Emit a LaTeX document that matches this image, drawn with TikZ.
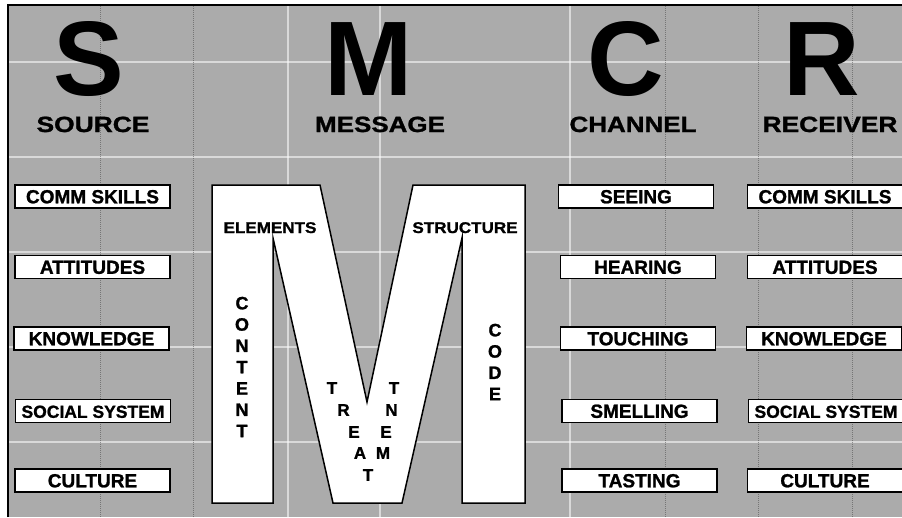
\documentclass[tikz,border=0pt]{standalone}
\usepackage{fontspec}
\setmainfont{Liberation Sans}
\newfontfamily\heavyfont[FakeBold=1.2]{Liberation Sans Bold}
\begin{document}
\begin{tikzpicture}[x=1pt,y=-1pt,
  bg/.style={fill=black!33},
  gridw/.style={white, line width=1.2pt, opacity=0.55},
  gridd/.style={black!75, line width=1pt, dash pattern=on 1pt off 1pt, opacity=0.5},
  lab/.style={draw=black, line width=1.7pt, fill=white, minimum width=155pt,
    minimum height=23pt, inner sep=0pt, text height=13.6pt, text depth=0pt,
    font=\fontsize{19}{19}\selectfont\heavyfont},
  labsm/.style={lab, font=\fontsize{17.5}{17.5}\selectfont\heavyfont},
  big/.style={anchor=base, inner sep=0pt, font=\fontsize{106}{106}\selectfont\bfseries},
  head/.style={anchor=base, inner sep=0pt, font=\fontsize{22}{22}\selectfont\heavyfont},
  mlab/.style={anchor=base, inner sep=0pt, font=\fontsize{15.5}{15.5}\selectfont\heavyfont},
  vstack/.style={align=center, inner sep=0pt, font=\fontsize{18}{21.3}\selectfont\heavyfont},
  tl/.style={inner sep=0pt, font=\fontsize{17}{17}\selectfont\heavyfont},
  mshape/.style={draw=black, line width=1.5pt, fill=white, line join=miter}]
\useasboundingbox (0,0) rectangle (902,517);
\fill[white] (0,0) rectangle (902,517);
\fill[bg] (8,5) rectangle (902,517);
% drawing-program grid lines
\foreach \yy in {62,157,252,347,442} \draw[gridw] (9,\yy) -- (902,\yy);
\foreach \xx in {288,380,570} \draw[gridw] (\xx,6) -- (\xx,517);
\foreach \xx in {100,193,665,758,852} \draw[gridd] (\xx,6) -- (\xx,517);
% frame
\draw[line width=2pt] (8,517) -- (8,5) -- (902,5);

% big letters and headings
\node[big] (S) at (89,95) {S};
\node[big] (M) at (369,95) {M};
\node[big] (C) at (626,95) {C};
\node[big] (R) at (822,95) {R};
\node[head] (source) at (93,132) {\scalebox{1.2}[1]{SOURCE}};
\node[head] (message) at (380,132) {\scalebox{1.18}[1]{MESSAGE}};
\node[head] (channel) at (633,132) {\scalebox{1.18}[1]{CHANNEL}};
\node[head] (receiver) at (830,132) {\scalebox{1.2}[1]{RECEIVER}};

% source column
\node[lab] (s1) at (92.5,196.5) {COMM SKILLS};
\node[lab] (s2) at (92.5,267) {ATTITUDES};
\node[lab] (s3) at (91.5,338.5) {KNOWLEDGE};
\node[labsm] (s4) at (93,411) {SOCIAL SYSTEM};
\node[lab] (s5) at (92.5,480.5) {CULTURE};

% channel column
\node[lab] (c1) at (636,196.5) {SEEING};
\node[lab] (c2) at (638,267) {HEARING};
\node[lab] (c3) at (638,338.5) {TOUCHING};
\node[lab] (c4) at (639.5,411) {SMELLING};
\node[lab] (c5) at (639.5,480.5) {TASTING};

% receiver column
\node[lab] (r1) at (825,196.5) {COMM SKILLS};
\node[lab] (r2) at (825,267) {ATTITUDES};
\node[lab] (r3) at (824,338.5) {KNOWLEDGE};
\node[labsm] (r4) at (826,411) {SOCIAL SYSTEM};
\node[lab] (r5) at (825,480.5) {CULTURE};

% the big M
\draw[mshape] (212,185) -- (320,185) -- (367,402) -- (413,185) -- (525,185)
  -- (525,503) -- (462,503) -- (462,238) -- (402,503) -- (333,503)
  -- (273,238) -- (273,503) -- (212,503) -- cycle;
\node[mlab] (elements) at (270,233) {\scalebox{1.1}[1]{ELEMENTS}};
\node[mlab] (structure) at (465,233) {\scalebox{1.1}[1]{STRUCTURE}};
\node[vstack] (content) at (242,367) {C\\O\\N\\T\\E\\N\\T};
\node[vstack] (code) at (495,362) {C\\O\\D\\E};
\node[tl] (t1) at (332,388) {T};
\node[tl] (t2) at (343.5,410) {R};
\node[tl] (t3) at (354,432) {E};
\node[tl] (t4) at (360,453) {A};
\node[tl] (t5) at (368,475) {T};
\node[tl] (t6) at (383,453) {M};
\node[tl] (t7) at (386,432) {E};
\node[tl] (t8) at (391.5,410) {N};
\node[tl] (t9) at (394,388) {T};
\end{tikzpicture}
\end{document}
